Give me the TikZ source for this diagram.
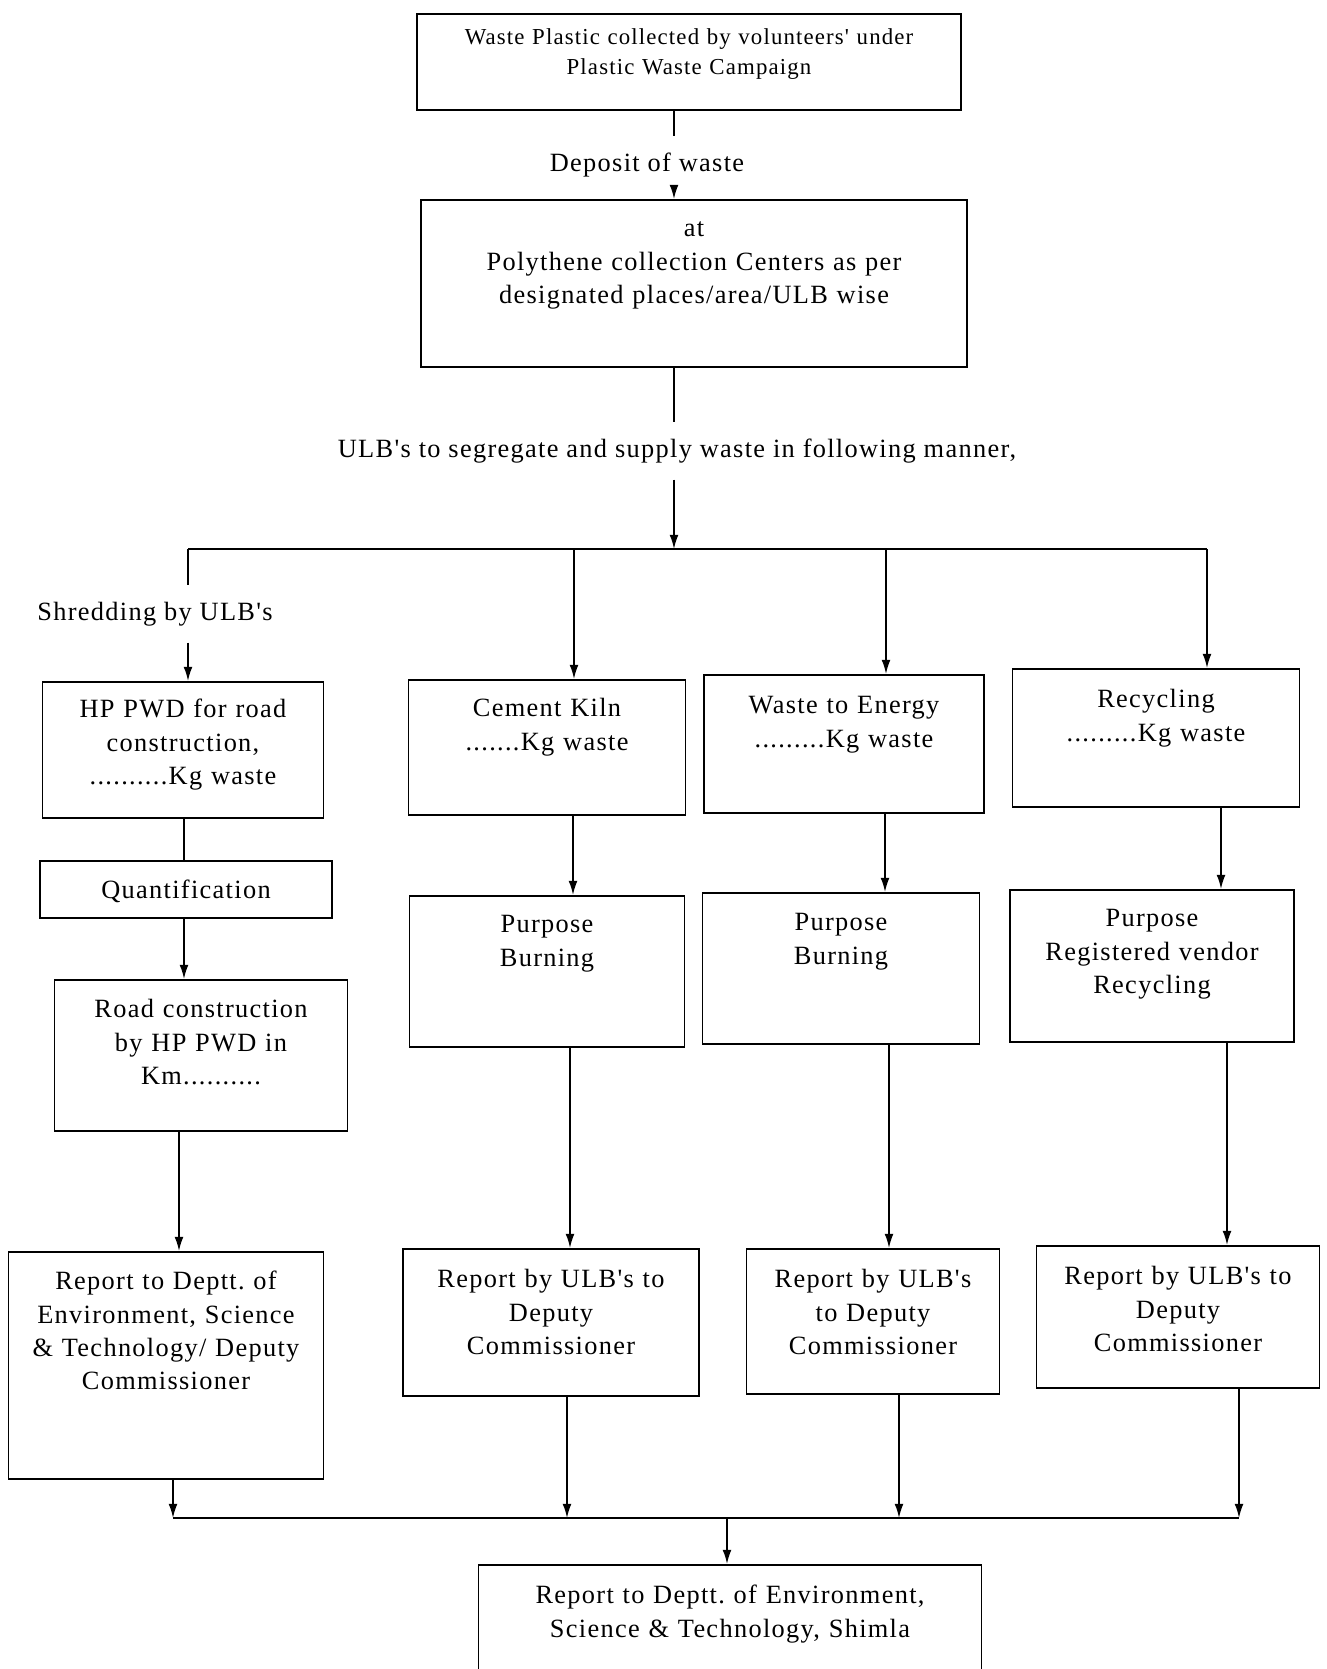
\documentclass[tikz,border=0pt]{standalone}
\usepackage{fontspec}
\setmainfont{Liberation Serif}[LetterSpace=5.0, Ligatures=TeXOff]
\usetikzlibrary{arrows.meta}
\frenchspacing

\begin{document}
\begin{tikzpicture}[
        x=0.02cm, y=-0.02cm,
        line width=0.9pt,
        box/.style={draw, anchor=north, align=center, inner sep=0pt,
            font=\fontsize{15}{19}\selectfont},
        lbl/.style={draw=none, inner xsep=2pt, inner ysep=9pt,
            font=\fontsize{15}{19}\selectfont},
        arr/.style={-{Latex[length=8pt,width=5pt]}},
        ]
    \useasboundingbox (0,0) rectangle (1327,1669);

    % collection
    \node (top) [box, font=\fontsize{13}{17}\selectfont, text width=10.88cm,
        text height=0.62cm, text depth=1.30cm] at (689,13)
        {Waste Plastic collected by volunteers' under\\Plastic Waste Campaign};
    \node (deposit) [lbl] at (647,165) {Deposit of waste};
    \node (polyth) [box, text width=10.92cm, text height=0.74cm, text depth=2.60cm]
        at (694,199)
        {at\\Polythene collection Centers as per\\designated places/area/ULB wise};
    \node (supply) [lbl] at (677,451)
        {ULB's to segregate and supply waste in following manner,};
    \node (shred) [lbl] at (155,614) {Shredding by ULB's};

    % first row
    \node (hp) [box, text width=5.62cm, text height=0.72cm, text depth=2.00cm]
        at (183,681) {HP PWD for road\\construction,\\..........Kg waste};
    \node (kiln) [box, text width=5.54cm, text height=0.74cm, text depth=1.96cm]
        at (547,679) {Cement Kiln\\.......Kg waste};
    \node (energy) [box, text width=5.60cm, text height=0.78cm, text depth=1.98cm]
        at (844,674) {Waste to Energy\\.........Kg waste};
    \node (recyc) [box, text width=5.74cm, text height=0.78cm, text depth=1.98cm]
        at (1156,668) {Recycling\\.........Kg waste};

    % second row
    \node (quant) [box, text width=5.84cm, text height=0.76cm, text depth=0.38cm]
        at (186,860) {Quantification};
    \node (road) [box, text width=5.86cm, text height=0.76cm, text depth=2.26cm]
        at (201,979) {Road construction\\by HP PWD in\\Km..........};
    \node (kilnp) [box, text width=5.50cm, text height=0.74cm, text depth=2.28cm]
        at (547,895) {Purpose\\Burning};
    \node (energyp) [box, text width=5.54cm, text height=0.76cm, text depth=2.26cm]
        at (841,892) {Purpose\\Burning};
    \node (recycp) [box, text width=5.68cm, text height=0.74cm, text depth=2.30cm]
        at (1152,889) {Purpose\\Registered vendor\\Recycling};

    % reports
    \node (rep1) [box, text width=6.30cm, text height=0.76cm, text depth=3.78cm]
        at (166,1251)
        {Report to Deptt. of\\Environment, Science\\\& Technology/ Deputy\\Commissioner};
    \node (rep2) [box, text width=5.92cm, text height=0.78cm, text depth=2.16cm]
        at (551,1248) {Report by ULB's to\\Deputy\\Commissioner};
    \node (rep3) [box, text width=5.06cm, text height=0.78cm, text depth=2.12cm]
        at (873,1248) {Report by ULB's\\to Deputy\\Commissioner};
    \node (rep4) [box, text width=5.66cm, text height=0.78cm, text depth=2.06cm]
        at (1178,1245) {Report by ULB's to\\Deputy\\Commissioner};
    \node (final) [box, text width=10.06cm, text height=0.78cm, text depth=1.54cm]
        at (730,1564) {Report to Deptt. of Environment,\\Science \& Technology, Shimla};

    % columns and bus lines
    \coordinate (s0) at (674,0);
    \coordinate (split) at (674,549);
    \coordinate (b1) at (188,549);
    \coordinate (b2) at (574,549);
    \coordinate (b3) at (886,549);
    \coordinate (b4) at (1207,549);
    \coordinate (l1) at (184,0);
    \coordinate (l2) at (179,0);
    \coordinate (k1) at (573,0);
    \coordinate (k2) at (570,0);
    \coordinate (e1) at (885,0);
    \coordinate (e2) at (889,0);
    \coordinate (r1) at (1221,0);
    \coordinate (r2) at (1227,0);
    \coordinate (m1) at (173,1518);
    \coordinate (m2) at (567,1518);
    \coordinate (m3) at (899,1518);
    \coordinate (m4) at (1239,1518);
    \coordinate (join) at (727,1518);

    \draw (top.south -| s0) -- (deposit.north -| s0);
    \draw[arr] (deposit.south -| s0) -- (polyth.north -| s0);
    \draw (polyth.south -| s0) -- (supply.north -| s0);
    \draw[arr] (supply.south -| s0) -- (split);
    \draw (b1) -- (b4);
    \draw (b1) -- (shred.north -| b1);
    \draw[arr] (shred.south -| b1) -- (hp.north -| b1);
    \draw[arr] (b2) -- (kiln.north -| b2);
    \draw[arr] (b3) -- (energy.north -| b3);
    \draw[arr] (b4) -- (recyc.north -| b4);

    \draw (hp.south -| l1) -- (quant.north -| l1);
    \draw[arr] (quant.south -| l1) -- (road.north -| l1);
    \draw[arr] (road.south -| l2) -- (rep1.north -| l2);
    \draw[arr] (kiln.south -| k1) -- (kilnp.north -| k1);
    \draw[arr] (kilnp.south -| k2) -- (rep2.north -| k2);
    \draw[arr] (energy.south -| e1) -- (energyp.north -| e1);
    \draw[arr] (energyp.south -| e2) -- (rep3.north -| e2);
    \draw[arr] (recyc.south -| r1) -- (recycp.north -| r1);
    \draw[arr] (recycp.south -| r2) -- (rep4.north -| r2);

    \draw[arr] (rep1.south -| m1) -- (m1);
    \draw[arr] (rep2.south -| m2) -- (m2);
    \draw[arr] (rep3.south -| m3) -- (m3);
    \draw[arr] (rep4.south -| m4) -- (m4);
    \draw (m1) -- (m4);
    \draw[arr] (join) -- (final.north -| join);
\end{tikzpicture}
\end{document}
